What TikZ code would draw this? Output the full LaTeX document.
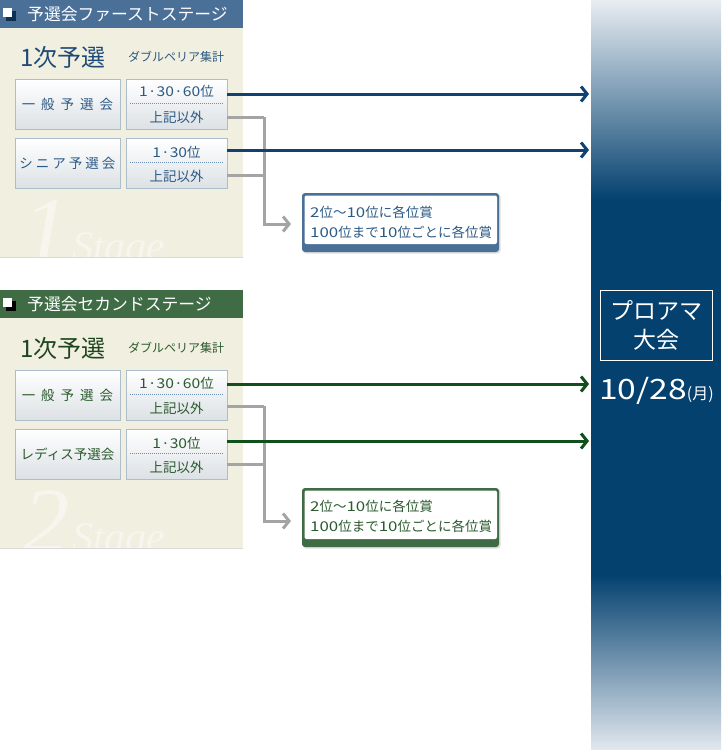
\documentclass[tikz,border=0pt]{standalone}
\usepackage{fontspec}
\setmainfont{Noto Sans CJK JP}
\newfontfamily\wmfont{Liberation Serif}
\newcommand\dg[1]{\scalebox{1.25}[1]{#1}}
\usetikzlibrary{arrows.meta}
\definecolor{hdrblue}{HTML}{4A7098}
\definecolor{navy}{HTML}{0F4272}
\definecolor{txtblue}{HTML}{2C5A85}
\definecolor{bigblue}{HTML}{1E4A77}
\definecolor{hdrgreen}{HTML}{3F6C45}
\definecolor{dgreen}{HTML}{11501A}
\definecolor{txtgreen}{HTML}{2A5A2E}
\definecolor{biggreen}{HTML}{1D4620}
\definecolor{cream}{HTML}{F1EFDF}
\definecolor{wmcol}{HTML}{F7F6EE}
\definecolor{colnavy}{HTML}{04416F}
\definecolor{coltop}{HTML}{E8EDF2}
\definecolor{colmid}{HTML}{5A82A8}
\definecolor{colbot}{HTML}{E2E8EF}
\definecolor{grayline}{HTML}{A4A4A4}
\definecolor{btnborder}{HTML}{AEBDCB}
\definecolor{btnbot}{HTML}{DCE1E5}
\definecolor{dotblue}{HTML}{6E8FB5}
\definecolor{iconnavy}{HTML}{0D2F52}
\tikzset{
  hdrtext/.style={anchor=west, text=white, inner sep=0, font=\fontsize{16.8}{19}\selectfont},
  bigtext/.style={anchor=west, inner sep=0, font=\fontsize{24}{26}\selectfont},
  subtext/.style={anchor=west, inner sep=0, font=\fontsize{12}{13}\selectfont},
  btnbox/.style={draw=btnborder, line width=0.8, top color=white, bottom color=btnbot, inner sep=0},
  lbtn/.style={btnbox, minimum width=105, minimum height=50},
  rbtn/.style={btnbox, minimum width=101, minimum height=50},
  btxt/.style={inner sep=0, font=\fontsize{13.5}{14}\selectfont},
  dotline/.style={draw=dotblue, line width=1, dash pattern=on 1pt off 1pt},
  navyarrow/.style={draw=navy, line width=3, -{Straight Barb[length=6pt,width=15pt]}},
  greenarrow/.style={draw=dgreen, line width=3, -{Straight Barb[length=6pt,width=15pt]}},
  grayarrow/.style={draw=grayline, line width=3, -{Straight Barb[length=6pt,width=15pt]}},
  grayline/.style={draw=grayline, line width=3},
  prizetxt/.style={anchor=west, inner sep=0, font=\fontsize{13.5}{15}\selectfont},
  wmone/.style={anchor=base west, inner sep=0, text=wmcol, font=\wmfont\itshape\fontsize{95}{95}\selectfont},
  wmstage/.style={anchor=base west, inner sep=0, text=wmcol, font=\wmfont\itshape\fontsize{42}{42}\selectfont},
}
\begin{document}
\begin{tikzpicture}[x=1pt,y=-1pt]
\useasboundingbox (0,0) rectangle (721,750);
\fill[white] (0,0) rectangle (721,750);

% right column
\shade[top color=coltop, middle color=colmid, bottom color=colnavy] (591,0) rectangle (721,200);
\fill[colnavy] (591,199.5) rectangle (721,575.5);
\shade[top color=colnavy, middle color=colmid, bottom color=colbot] (591,575) rectangle (721,750);
\node[draw=white, line width=1.8, minimum width=112, minimum height=70, text=white, align=center,
      font=\fontsize{23}{29}\selectfont] (pa) at (656.5,325.5) {プロアマ\\大会};
\node[text=white, anchor=west, inner sep=0] (dt) at (599,391)
      {\fontsize{28}{30}\selectfont\scalebox{1.2}[1]{10/28}\fontsize{16}{18}\selectfont(月)};
\coordinate (a1) at (589,94);
\coordinate (a2) at (589,150);
\coordinate (a3) at (589,384);
\coordinate (a4) at (589,441);

% ================= Stage 1 =================
\fill[cream] (0,28) rectangle (243,257);
\begin{scope}
  \clip (0,28) rectangle (243,257);
  \node[wmone] (w1) at (22,262) {1};
  \node[wmstage] (w1s) at (72,260) {Stage};
\end{scope}
\draw[black!15, line width=1] (0,257) -- (243,257);
\fill[hdrblue] (0,0) rectangle (243,28);
\fill[iconnavy] (6,11) rectangle (16,21);
\fill[white] (3,8) rectangle (12,17);
\node[hdrtext] (h1) at (27,14) {予選会ファーストステージ};
\node[bigtext, text=bigblue] (q1) at (20,57) {1次予選};
\node[subtext, text=txtblue] (d1) at (128,57) {ダブルペリア集計};

\node[lbtn] (l11) at (67.5,104.5) {};
\node[btxt, text=txtblue] at (l11) {一\kern6pt 般\kern6pt 予\kern6pt 選\kern6pt 会};
\node[rbtn] (r11) at (176.5,104.5) {};
\node[btxt, text=txtblue] (r11a) at (176.5,91.5) {\scalebox{1.16}[1]{1·30·60}位};
\node[btxt, text=txtblue] (r11b) at (176.5,117) {上記以外};
\draw[dotline] (130,103.5) -- (223,103.5);

\node[lbtn] (l12) at (67.5,163.5) {};
\node[btxt, text=txtblue] at (l12) {シ\kern3pt ニ\kern3pt ア\kern3pt 予\kern3pt 選\kern3pt 会};
\node[rbtn] (r12) at (176.5,163.5) {};
\node[btxt, text=txtblue] (r12a) at (176.5,152) {\scalebox{1.16}[1]{1·30}位};
\node[btxt, text=txtblue] (r12b) at (176.5,176.5) {上記以外};
\draw[dotline] (130,162.5) -- (223,162.5);

% prize box 1
\fill[black!12, rounded corners=3] (303,194) rectangle (500.5,253.5);
\fill[hdrblue, rounded corners=3] (302,193) rectangle (499,252);
\node[fill=white, rounded corners=2, minimum width=192.5, minimum height=48.5, inner sep=0, anchor=north west] (p1) at (304.3,195.3) {};
\node[prizetxt, text=txtblue] (p1a) at (310,212) {\dg{2}位～\dg{10}位に各位賞};
\node[prizetxt, text=txtblue] (p1b) at (310,232) {\dg{100}位まで\dg{10}位ごとに各位賞};
\coordinate (j1) at (264,117);
\coordinate (j2) at (264,175);
\coordinate (t1) at (291,224);

\draw[grayline] (r11.east |- j1) -- (j1);
\draw[grayline] (r12.east |- j2) -- (j2);
\draw[grayarrow] (j1) -- (j1 |- t1) -- (t1);
\draw[navyarrow] (r11.east |- a1) -- (a1);
\draw[navyarrow] (r12.east |- a2) -- (a2);

% ================= Stage 2 =================
\fill[cream] (0,318) rectangle (243,548);
\begin{scope}
  \clip (0,318) rectangle (243,548);
  \node[wmone] (w2) at (22,553) {2};
  \node[wmstage] (w2s) at (72,551) {Stage};
\end{scope}
\draw[black!15, line width=1] (0,548) -- (243,548);
\fill[hdrgreen] (0,290) rectangle (243,318);
\fill[black] (6,301) rectangle (16,311);
\fill[white] (3,298) rectangle (12,307);
\node[hdrtext] (h2) at (27,304) {予選会セカンドステージ};
\node[bigtext, text=biggreen] (q2) at (20,348) {1次予選};
\node[subtext, text=txtgreen] (d2) at (128,348) {ダブルペリア集計};

\node[lbtn] (l21) at (67.5,395.5) {};
\node[btxt, text=txtgreen] at (l21) {一\kern6pt 般\kern6pt 予\kern6pt 選\kern6pt 会};
\node[rbtn] (r21) at (176.5,395.5) {};
\node[btxt, text=txtgreen] (r21a) at (176.5,383) {\scalebox{1.16}[1]{1·30·60}位};
\node[btxt, text=txtgreen] (r21b) at (176.5,408) {上記以外};
\draw[dotline] (130,394.5) -- (223,394.5);

\node[lbtn] (l22) at (67.5,454) {};
\node[btxt, text=txtgreen] at (l22) {レディス予選会};
\node[rbtn] (r22) at (176.5,454) {};
\node[btxt, text=txtgreen] (r22a) at (176.5,443) {\scalebox{1.16}[1]{1·30}位};
\node[btxt, text=txtgreen] (r22b) at (176.5,467) {上記以外};
\draw[dotline] (130,453) -- (223,453);

% prize box 2
\fill[black!12, rounded corners=3] (303,489) rectangle (500.5,548.5);
\fill[hdrgreen, rounded corners=3] (302,488) rectangle (499,547);
\node[fill=white, rounded corners=2, minimum width=192.5, minimum height=48.5, inner sep=0, anchor=north west] (p2) at (304.3,490.3) {};
\node[prizetxt, text=txtgreen] (p2a) at (310,506) {\dg{2}位～\dg{10}位に各位賞};
\node[prizetxt, text=txtgreen] (p2b) at (310,526) {\dg{100}位まで\dg{10}位ごとに各位賞};
\coordinate (j3) at (264,406);
\coordinate (j4) at (264,464);
\coordinate (t2) at (291,521);

\draw[grayline] (r21.east |- j3) -- (j3);
\draw[grayline] (r22.east |- j4) -- (j4);
\draw[grayarrow] (j3) -- (j3 |- t2) -- (t2);
\draw[greenarrow] (r21.east |- a3) -- (a3);
\draw[greenarrow] (r22.east |- a4) -- (a4);
\end{tikzpicture}
\end{document}
